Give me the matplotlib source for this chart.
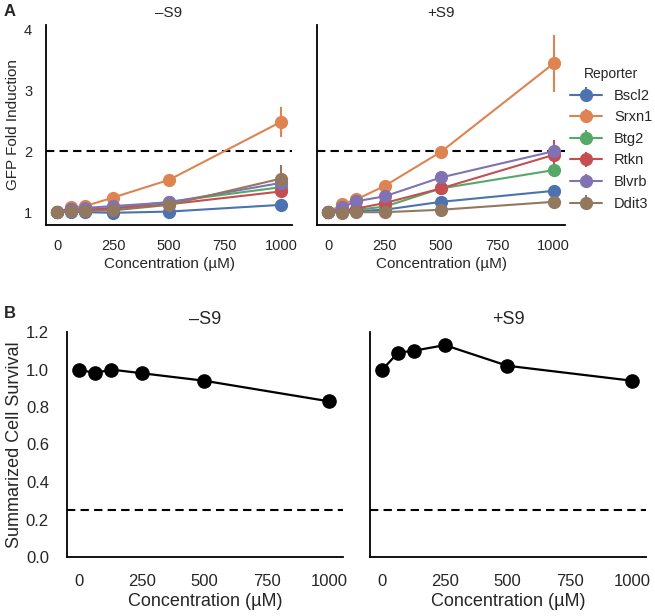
import matplotlib
matplotlib.use("Agg")
import matplotlib.pyplot as plt
import seaborn as sns

sns.set_style("white")
plt.rcParams['font.family'] = ['Liberation Sans', 'DejaVu Sans']

# concentrations in uM
conc = [0, 62.5, 125, 250, 500, 1000]

reporters = ['Bscl2', 'Srxn1', 'Btg2', 'Rtkn', 'Blvrb', 'Ddit3']
colors = ['#4C72B0', '#DD8452', '#55A868', '#C44E52', '#8172B3', '#937860']

# GFP fold induction, -S9
minus_s9 = {
    'Bscl2': [1.0, 1.01, 1.00, 0.99, 1.01, 1.12],
    'Srxn1': [1.0, 1.08, 1.10, 1.24, 1.53, 2.48],
    'Btg2':  [1.0, 1.04, 1.05, 1.07, 1.17, 1.41],
    'Rtkn':  [1.0, 1.06, 1.04, 1.06, 1.13, 1.34],
    'Blvrb': [1.0, 1.05, 1.07, 1.10, 1.16, 1.48],
    'Ddit3': [1.0, 1.02, 1.02, 1.03, 1.12, 1.55],
}
minus_s9_err = {
    'Bscl2': [0, 0.01, 0.01, 0.01, 0.02, 0.03],
    'Srxn1': [0, 0.02, 0.02, 0.03, 0.04, 0.25],
    'Btg2':  [0, 0.01, 0.01, 0.02, 0.03, 0.05],
    'Rtkn':  [0, 0.02, 0.01, 0.02, 0.03, 0.06],
    'Blvrb': [0, 0.01, 0.01, 0.02, 0.03, 0.05],
    'Ddit3': [0, 0.01, 0.01, 0.02, 0.03, 0.22],
}

# GFP fold induction, +S9
plus_s9 = {
    'Bscl2': [1.0, 1.01, 1.02, 1.04, 1.17, 1.35],
    'Srxn1': [1.0, 1.13, 1.21, 1.43, 1.99, 3.44],
    'Btg2':  [1.0, 1.02, 1.04, 1.09, 1.39, 1.69],
    'Rtkn':  [1.0, 1.03, 1.06, 1.15, 1.39, 1.94],
    'Blvrb': [1.0, 1.08, 1.18, 1.26, 1.57, 2.00],
    'Ddit3': [1.0, 0.99, 1.00, 1.00, 1.04, 1.17],
}
plus_s9_err = {
    'Bscl2': [0, 0.01, 0.01, 0.02, 0.03, 0.04],
    'Srxn1': [0, 0.02, 0.03, 0.04, 0.05, 0.47],
    'Btg2':  [0, 0.01, 0.02, 0.02, 0.04, 0.05],
    'Rtkn':  [0, 0.02, 0.03, 0.04, 0.10, 0.25],
    'Blvrb': [0, 0.02, 0.03, 0.03, 0.04, 0.12],
    'Ddit3': [0, 0.01, 0.01, 0.01, 0.02, 0.04],
}

# summarized cell survival
surv_minus = [1.00, 0.98, 1.00, 0.98, 0.94, 0.83]
surv_minus_err = [0.01, 0.01, 0.01, 0.01, 0.01, 0.03]
surv_plus = [1.00, 1.09, 1.10, 1.13, 1.02, 0.94]
surv_plus_err = [0.01, 0.01, 0.01, 0.01, 0.01, 0.01]

W, H = 655, 616
fig = plt.figure(figsize=(W / 100, H / 100), dpi=100)


def px_axes(left, top, right, bottom):
    return fig.add_axes([left / W, 1 - bottom / H, (right - left) / W, (bottom - top) / H])


def style(ax, fs, xpad, ypad):
    sns.despine(ax=ax)
    for s in ['left', 'bottom']:
        ax.spines[s].set_color('black')
        ax.spines[s].set_linewidth(1.3)
    ax.tick_params(labelsize=fs, length=0)
    ax.tick_params(axis='x', pad=xpad)
    ax.tick_params(axis='y', pad=ypad)
    ax.set_xticks([0, 250, 500, 750, 1000])


ax1 = px_axes(46, 25, 292, 225)
ax2 = px_axes(317, 25, 565, 225)

handles = []
for ax, data, err, title in [(ax1, minus_s9, minus_s9_err, '–S9'),
                             (ax2, plus_s9, plus_s9_err, '+S9')]:
    for name, c in zip(reporters, colors):
        h = ax.errorbar(conc, data[name], yerr=err[name], color=c, marker='o',
                        markersize=8.5, lw=1.5, elinewidth=1.5, label=name)
        if ax is ax1:
            handles.append(h)
    ax.axhline(2, color='black', ls='--', lw=1.5, dashes=(4, 2.5))
    ax.set_xlim(-50, 1050)
    ax.set_ylim(0.79, 4.07)
    ax.set_yticks([1, 2, 3, 4])
    style(ax, 10.5, 10, 10)
    ax.set_title(title, fontsize=11, pad=6)
    ax.set_xlabel('Concentration (µM)', fontsize=11, labelpad=3)

ax1.set_ylabel('GFP Fold Induction', fontsize=11, labelpad=3)
ax2.set_yticklabels([])

fig.legend(handles=handles, labels=reporters, title='Reporter', loc='upper left',
           bbox_to_anchor=(557 / W, 1 - 54 / H), frameon=False, fontsize=10.5,
           title_fontsize=10, handlelength=2.2, labelspacing=0.52)

ax3 = px_axes(67, 332, 343, 557)
ax4 = px_axes(370, 332, 646, 557)
for ax, vals, err, title in [(ax3, surv_minus, surv_minus_err, '–S9'),
                             (ax4, surv_plus, surv_plus_err, '+S9')]:
    ax.errorbar(conc, vals, yerr=err, color='black', marker='o', markersize=9.5,
                lw=1.6, elinewidth=1.6)
    ax.axhline(0.25, color='black', ls='--', lw=1.5, dashes=(4, 2.5))
    ax.set_xlim(-50, 1055)
    ax.set_ylim(0, 1.2)
    ax.set_yticks([0, 0.2, 0.4, 0.6, 0.8, 1.0, 1.2])
    style(ax, 12, 12, 13)
    ax.set_title(title, fontsize=13, pad=6)
    ax.set_xlabel('Concentration (µM)', fontsize=13, labelpad=3)

ax3.set_yticklabels(['0.0', '0.2', '0.4', '0.6', '0.8', '1.0', '1.2'])
ax3.set_ylabel('Summarized Cell Survival', fontsize=13, labelpad=2)
ax4.set_yticklabels([])

fig.text(4 / W, 1 - 11 / H, 'A', fontsize=12, fontweight='bold', va='center')
fig.text(4 / W, 1 - 314 / H, 'B', fontsize=12, fontweight='bold', va='center')

fig.savefig('out.png', dpi=100)
